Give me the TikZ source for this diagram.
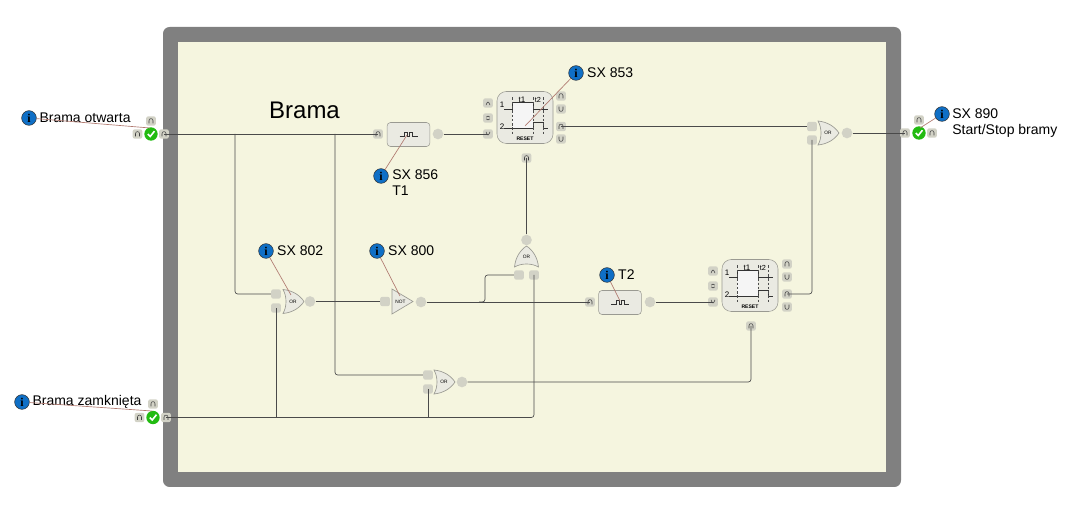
\documentclass[tikz,border=0pt]{standalone}
\usepackage{fontspec}
\setmainfont{Liberation Sans}
\newfontfamily\infofont{Liberation Serif}
\usetikzlibrary{positioning,calc}
\definecolor{framegray}{HTML}{808080}
\definecolor{panel}{HTML}{F5F5DF}
\definecolor{padgray}{HTML}{D2D2C6}
\definecolor{boxgray}{HTML}{EAEAE2}
\definecolor{edgegray}{HTML}{9A9A92}
\definecolor{infoblue}{HTML}{0F6FC6}
\definecolor{okgreen}{HTML}{22BB11}
\definecolor{leaderred}{HTML}{B07A70}
\definecolor{wiregray}{HTML}{4A4A4A}
\tikzset{
    pad/.style={
        rectangle,
        fill=padgray,
        rounded corners=1.5pt,
        inner sep=0pt,
        minimum width=7.2pt,
        minimum height=7pt
    },
    hipad/.style={
        pad,
        path picture={\draw[glyph] ([shift={(-1.5pt,-1.8pt)}]path picture bounding box.center) -- ++(0pt,3.6pt) -- ++(3pt,0pt) -- ++(0pt,-3.6pt);}
    },
    lopad/.style={
        pad,
        path picture={\draw[glyph] ([shift={(-1.5pt,1.8pt)}]path picture bounding box.center) -- ++(0pt,-3.6pt) -- ++(3pt,0pt) -- ++(0pt,3.6pt);}
    },
    uppad/.style={
        pad,
        path picture={\draw[glyph] ([shift={(-1.5pt,-1.6pt)}]path picture bounding box.center) -- ++(1.5pt,3.2pt) -- ++(1.5pt,-3.2pt);}
    },
    downpad/.style={
        pad,
        path picture={\draw[glyph] ([shift={(-1.5pt,1.6pt)}]path picture bounding box.center) -- ++(1.5pt,-3.2pt) -- ++(1.5pt,3.2pt);}
    },
    bothpad/.style={
        pad,
        path picture={\draw[glyph] ([shift={(-1.2pt,0.6pt)}]path picture bounding box.center) -- ++(1.2pt,1.5pt) -- ++(1.2pt,-1.5pt);
            \draw[glyph] ([shift={(-1.2pt,-0.6pt)}]path picture bounding box.center) -- ++(1.2pt,-1.5pt) -- ++(1.2pt,1.5pt);}
    },
    glyph/.style={draw=black!75, line width=0.4pt},
    outdot/.style={circle, fill=padgray, inner sep=0pt, minimum size=8pt},
    okdot/.style={
        circle,
        fill=okgreen,
        inner sep=0pt,
        minimum size=10pt,
        path picture={\draw[white, line width=1.2pt] ([shift={(-2.4pt,0pt)}]path picture bounding box.center) -- ++(1.8pt,-1.9pt) -- ++(3.2pt,4pt);}
    },
    info/.style={
        circle,
        draw=black!80,
        fill=infoblue,
        inner sep=0pt,
        minimum size=11pt,
        font=\infofont\bfseries\fontsize{9}{9}\selectfont
    },
    caption/.style={anchor=west, align=left, inner sep=0pt, font=\fontsize{10.5}{12}\selectfont},
    pulsebox/.style={
        rectangle,
        draw=edgegray,
        fill=boxgray,
        rounded corners=2.5pt,
        inner sep=0pt,
        minimum width=32pt,
        minimum height=18pt
    },
    pulseline/.style={draw=black!80, line width=0.4pt},
    gate/.style={draw=edgegray, fill=boxgray, line width=0.5pt},
    gatetext/.style={inner sep=0pt, font=\fontsize{3.6}{4}\selectfont},
    wire/.style={draw=wiregray, line width=0.5pt, rounded corners=2pt},
    leader/.style={draw=leaderred, line width=0.5pt},
    wave/.style={draw=black!80, line width=0.5pt},
    tick/.style={draw=black!70, line width=0.4pt, dash pattern=on 2pt off 1.2pt}
}
% OR gate: name, position, rotation
\newcommand{\orgate}[3]{
    \draw[gate, shift={(#2)}, rotate=#3] (-10,-12) .. controls (0,-11) and (7,-6) .. (11,0) .. controls (7,6) and (0,11) .. (-10,12) .. controls (-6,5) and (-6,-5) .. (-10,-12) -- cycle;
    \node[gatetext] (#1) at (#2) {OR};
}
% pulse box: name, centre
\newcommand{\pulseblock}[2]{
    \node[pulsebox] (#1) at (#2) {};
    \draw[pulseline, shift={(#2)}] (-9,2) -- (-4,2) -- (-4,-2) -- (-1,-2) -- (-1,2) -- (1,2) -- (1,-2) -- (4,-2) -- (4,2) -- (9,2);
}
% timer block: name, centre
\newcommand{\timerblock}[2]{
    \node[draw=edgegray, fill=boxgray, rounded corners=7pt, minimum width=42pt, minimum height=39pt, inner sep=0pt] (#1) at (#2) {};
    \begin{scope}[shift={(#2)}]
        \fill[black!4] (-13,-15) rectangle (8,11);
        \draw[wave] (-21,-8) -- (-13,-8) -- (-13,-15) -- (8,-15) -- (8,-8) -- (23,-8);
        \draw[wave] (-21,11) -- (8,11) -- (8,5) -- (18,5) -- (18,11) -- (23,11);
        \draw[tick] (-13,-20) -- (-13,18);
        \draw[tick] (8,-20) -- (8,18);
        \draw[tick] (18,-20) -- (18,18);
        \node[inner sep=0pt, font=\fontsize{6}{6}\selectfont] at (-3,-18) {t1};
        \node[inner sep=0pt, font=\fontsize{5.5}{6}\selectfont] at (13,-18) {t2};
        \node[inner sep=0pt, font=\fontsize{6}{6}\selectfont] at (-23,-13) {1};
        \node[inner sep=0pt, font=\fontsize{6}{6}\selectfont] at (-23,9) {2};
        \node[inner sep=0pt, font=\bfseries\fontsize{3.8}{4}\selectfont] at (0,21) {RESET};
    \end{scope}
}
\begin{document}
\begin{tikzpicture}[x=0.75pt, y=-0.75pt]
    \useasboundingbox (0,0) rectangle (1075,505);

    % Frame
    \fill[framegray, rounded corners=5pt] (163,27) rectangle (901,487);
    \fill[panel] (178,42) rectangle (886,472);
    \node[inner sep=0pt, font=\fontsize{18}{18}\selectfont] (title) at (304.5,110) {Brama};

    % Inputs
    \node (otwTop) [hipad] at (151,121) {};
    \node (otwIn) [hipad] at (137.5,134) {};
    \node (otwOk) [okdot] at (151,134) {};
    \node (otwOut) [hipad] at (164,134) {};
    \node (zamTop) [hipad] at (153,404) {};
    \node (zamIn) [hipad] at (139.5,417.5) {};
    \node (zamOk) [okdot] at (153,417.5) {};
    \node (zamOut) [hipad] at (166,417.5) {};

    % Output
    \node (wynTop) [hipad] at (919,120) {};
    \node (wynIn) [hipad] at (905,133) {};
    \node (wynOk) [okdot] at (919,133) {};
    \node (wynOut) [hipad] at (932,133) {};

    % Upper row
    \node (pulseT1In) [hipad] at (378,134) {};
    \pulseblock{pulseT1}{408.5,134.5}
    \node (pulseT1Out) [outdot] at (438,134) {};
    \timerblock{timerA}{525,117.5}
    \node (timerAup) [uppad] at (488,103) {};
    \node (timerAboth) [bothpad] at (488,118) {};
    \node (timerAdown) [downpad] at (488,134) {};
    \node (timerAq) [hipad] at (561,96) {};
    \node (timerAnq) [lopad] at (561,109) {};
    \node (timerAr) [hipad] at (561,126.5) {};
    \node (timerAnr) [lopad] at (561,139) {};
    \node (timerAreset) [hipad] at (526.5,158) {};
    \orgate{orOut}{828,133}{0}
    \node (orOutA) [pad] at (812,126.5) {};
    \node (orOutB) [pad] at (812,140) {};
    \node (orOutY) [outdot] at (847,133) {};

    % Middle row
    \orgate{orLeft}{293,301.5}{0}
    \node (orLeftA) [pad] at (276,294) {};
    \node (orLeftB) [pad] at (276,308) {};
    \node (orLeftY) [outdot] at (310,301.5) {};
    \draw[gate] (392,289) -- (413,301.5) -- (392,314) -- cycle;
    \node (notGate) [gatetext] at (400.5,301.5) {NOT};
    \node (notIn) [pad] at (385,301.5) {};
    \node (notOut) [outdot] at (421,302) {};
    \orgate{orUp}{526.5,257}{90}
    \node (orUpA) [pad] at (519,275) {};
    \node (orUpB) [pad] at (534,275) {};
    \node (orUpY) [outdot] at (526.5,240) {};
    \node (pulseT2In) [hipad] at (590,302) {};
    \pulseblock{pulseT2}{620,302.5}
    \node (pulseT2Out) [outdot] at (650,302) {};
    \timerblock{timerB}{750,285.5}
    \node (timerBup) [uppad] at (713,271) {};
    \node (timerBboth) [bothpad] at (713,286) {};
    \node (timerBdown) [downpad] at (713,302) {};
    \node (timerBq) [hipad] at (787,264) {};
    \node (timerBnq) [lopad] at (787,277) {};
    \node (timerBr) [hipad] at (787,294) {};
    \node (timerBnr) [lopad] at (787,307) {};
    \node (timerBreset) [hipad] at (751,326) {};

    % Lower row
    \orgate{orLow}{444,382}{0}
    \node (orLowA) [pad] at (428,375) {};
    \node (orLowB) [pad] at (428,389) {};
    \node (orLowY) [outdot] at (462,382) {};

    % Arrows
    \draw[wire] (otwOut.center) -- (pulseT1In.center);
    \draw[wire] (235,134) -- (235,294) -- (orLeftA.west);
    \draw[wire] (335,134) -- (335,375) -- (orLowA.west);
    \draw[wire] (zamOut.center) -- (534,417.5) -- (orUpB.center);
    \draw[wire] (276,417.5) -- (orLeftB.center);
    \draw[wire] (428,417.5) -- (orLowB.center);
    \draw[wire] (orLeftY) -- (notIn);
    \draw[wire] (notOut) -- (pulseT2In.center);
    \draw[wire] (479,302) -- (485,302) -- (485,275) -- (orUpA.west);
    \draw[wire] (orUpY) -- (timerAreset.center);
    \draw[wire] (pulseT1Out) -- (timerAdown.center);
    \draw[wire] (timerAr.center) -- (orOutA);
    \draw[wire] (pulseT2Out) -- (timerBdown.center);
    \draw[wire] (timerBr.center) -- (812,294) -- (orOutB.center);
    \draw[wire] (orLowY) -- (751,382) -- (timerBreset.center);
    \draw[wire] (orOutY) -- (wynIn.center);

    % Info marks
    \node (infoOtw) [info] at (29,118) {i};
    \node (infoZam) [info] at (22,402) {i};
    \node (infoWyn) [info] at (942,114) {i};
    \node (infoT1) [info] at (381,176) {i};
    \node (infoA) [info] at (576,73) {i};
    \node (infoLeft) [info] at (266,251) {i};
    \node (infoNot) [info] at (377,251) {i};
    \node (infoT2) [info] at (607,275) {i};

    % Labels
    \node (capOtw) [caption, right=2pt of infoOtw] {Brama otwarta};
    \node (capZam) [caption, right=2pt of infoZam] {Brama zamknięta};
    \node (capWyn) [caption, anchor=north west] at (952,108) {SX 890\\Start/Stop bramy};
    \node (capT1) [caption, anchor=north west] at (392,169) {SX 856\\T1};
    \node (capA) [caption, right=2.5pt of infoA] {SX 853};
    \node (capLeft) [caption, right=2.5pt of infoLeft] {SX 802};
    \node (capNot) [caption, right=2.5pt of infoNot] {SX 800};
    \node (capT2) [caption, right=2.5pt of infoT2] {T2};

    % Leaders
    \coordinate (endOtw) at (150,128);
    \coordinate (endZam) at (152,411);
    \coordinate (endWyn) at (920,128);
    \coordinate (endT1) at (407,135);
    \coordinate (endA) at (525,126);
    \coordinate (endLeft) at (291,295);
    \coordinate (endNot) at (400,296);
    \coordinate (endT2) at (620,301);
    \draw[leader] (infoOtw) -- (endOtw);
    \draw[leader] (infoZam) -- (endZam);
    \draw[leader] (infoWyn) -- (endWyn);
    \draw[leader] (infoT1) -- (endT1);
    \draw[leader] (infoA) -- (endA);
    \draw[leader] (infoLeft) -- (endLeft);
    \draw[leader] (infoNot) -- (endNot);
    \draw[leader] (infoT2) -- (endT2);
\end{tikzpicture}
\end{document}
